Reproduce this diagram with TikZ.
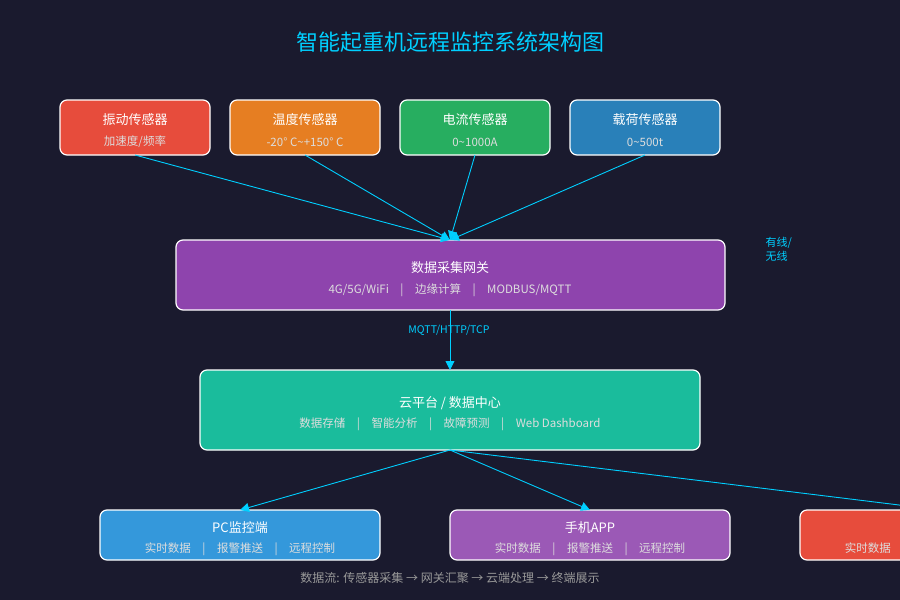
\documentclass[tikz,border=0pt]{standalone}
\usepackage{fontspec}
\setmainfont{Noto Sans CJK SC}
\usetikzlibrary{arrows.meta,calc}
\definecolor{bg}{HTML}{1A1A2E}
\definecolor{cy}{HTML}{00CFFF}
\definecolor{cred}{HTML}{E74C3C}
\definecolor{cor}{HTML}{E67E22}
\definecolor{cgr}{HTML}{27AE60}
\definecolor{cbl}{HTML}{2980B9}
\definecolor{cpu}{HTML}{8E44AD}
\definecolor{ctl}{HTML}{1ABC9C}
\definecolor{cpc}{HTML}{3498DB}
\definecolor{cmo}{HTML}{9B59B6}
\definecolor{sub}{HTML}{DDDDDD}
\tikzset{
 box/.style={draw=white,line width=1.2pt,rounded corners=7pt},
 ttl/.style={text=white,font=\fontsize{13}{15}\selectfont},
 st/.style={text=sub,font=\fontsize{11.5}{14}\selectfont},
 arr/.style={draw=cy,line width=0.9pt,-{Triangle[length=9pt,width=9pt]}},
}
\begin{document}
\begin{tikzpicture}[x=1pt,y=-1pt]
\fill[bg] (0,0) rectangle (900,600);
\clip (0,0) rectangle (900,600);
\node[text=cy,font=\fontsize{22}{26}\selectfont] (title) at (450,42) {智能起重机远程监控系统架构图};
% sensors
\foreach \n/\x/\c/\t/\s in {s1/60/cred/振动传感器/{加速度/频率}, s2/230/cor/温度传感器/{-20° C\textasciitilde+150° C}, s3/400/cgr/电流传感器/{0\textasciitilde1000A}, s4/570/cbl/载荷传感器/{0\textasciitilde500t}}{
 \path[box,fill=\c] (\x,100) rectangle ++(150,55);
 \coordinate (\n) at (\x+75,155);
 \node[ttl] (\n t) at (\x+75,120) {\t};
 \node[st] (\n s) at (\x+75,142) {\s};
}
\path[box,fill=cpu] (176,240) rectangle (725,310);
\node[ttl] (gwt) at (450,268) {数据采集网关};
\node[st] (gws) at (450,290) {4G/5G/WiFi\quad|\quad 边缘计算\quad|\quad MODBUS/MQTT};
\coordinate (gwtop) at (450,240);
\coordinate (gwbot) at (450,310);
\node[text=cy,font=\fontsize{11}{14}\selectfont,align=left,anchor=north west] (wl) at (762,234) {有线/\\无线};
\path[box,fill=ctl] (200,370) rectangle (700,450);
\coordinate (cltop) at (450,370);
\coordinate (clbot) at (450,450);
\node[ttl] (clt) at (450,403) {云平台 / 数据中心};
\node[st] (cls) at (450,424) {数据存储\quad|\quad 智能分析\quad|\quad 故障预测\quad|\quad Web Dashboard};
\node[text=cy,font=\fontsize{10.5}{13}\selectfont] (proto) at (449,330) {MQTT/HTTP/TCP};
\foreach \n/\x/\c/\t in {b1/100/cpc/PC监控端, b2/450/cmo/手机APP, b3/800/cred/{}}{
 \path[box,fill=\c] (\x,510) rectangle ++(280,50);
 \coordinate (\n) at (\x+140,510);
 \node[ttl] (\n t) at (\x+140,528) {\t};
 \node[st] (\n s) at (\x+140,549) {实时数据\quad|\quad 报警推送\quad|\quad 远程控制};
}
\foreach \n in {s1,s2,s3,s4} \draw[arr] (\n) -- (gwtop);
\draw[arr] (gwbot) -- (cltop);
\draw[arr] (clbot) -- (b1);
\draw[arr] (clbot) -- (b2);
\draw[arr] (clbot) -- (b3);
\node[text=gray!80,font=\fontsize{12}{14}\selectfont] (foot) at (450,578) {数据流: 传感器采集 → 网关汇聚 → 云端处理 → 终端展示};
\end{tikzpicture}
\end{document}
